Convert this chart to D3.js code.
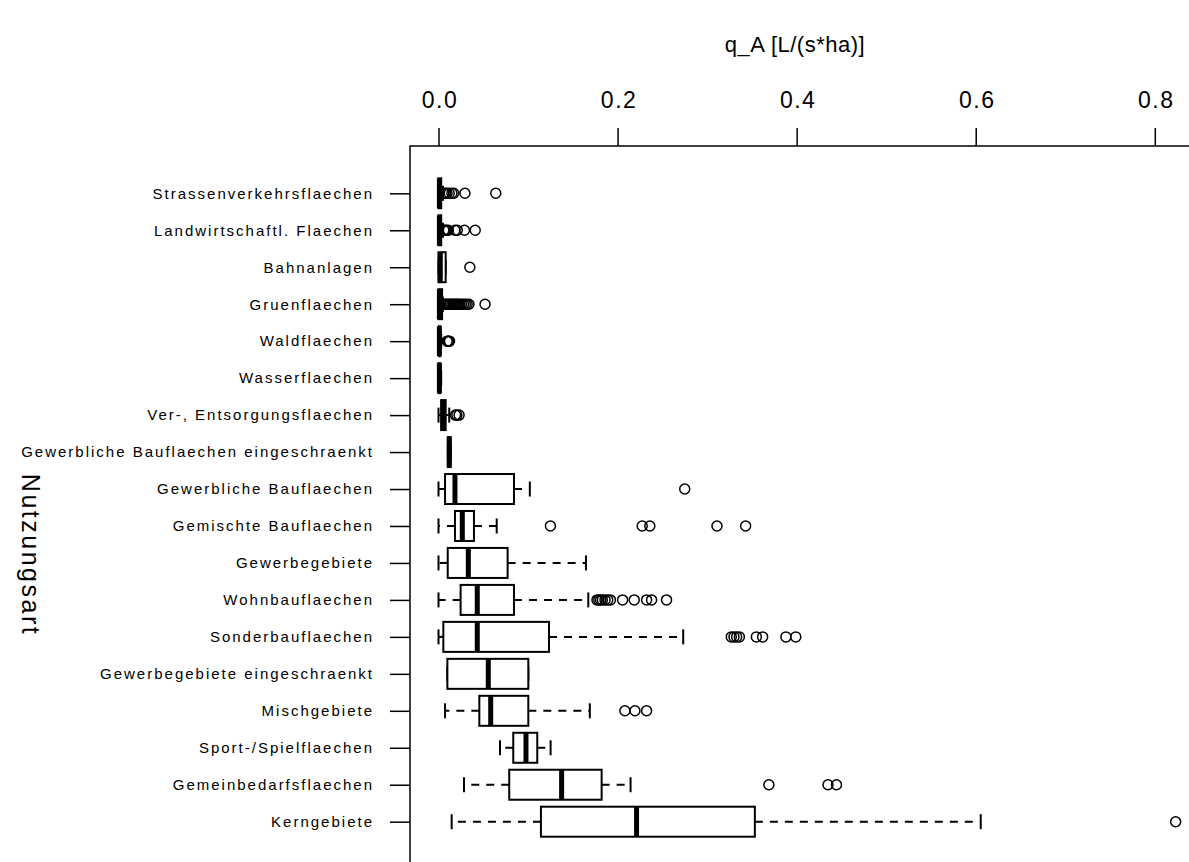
<!DOCTYPE html>
<html>
<head>
<meta charset="utf-8">
<script src="https://cdn.jsdelivr.net/npm/d3@7"></script>
<style>
  body { margin: 0; background: #fff; }
  svg text { font-family: "Liberation Sans", Arial, sans-serif; fill: #000; }
</style>
</head>
<body>
<svg id="chart" width="1189" height="862"></svg>
<script>
// categories, top to bottom
const categories = [
  'Strassenverkehrsflaechen', 'Landwirtschaftl. Flaechen', 'Bahnanlagen', 'Gruenflaechen',
  'Waldflaechen', 'Wasserflaechen', 'Ver-, Entsorgungsflaechen', 'Gewerbliche Bauflaechen eingeschraenkt',
  'Gewerbliche Bauflaechen', 'Gemischte Bauflaechen', 'Gewerbegebiete', 'Wohnbauflaechen',
  'Sonderbauflaechen', 'Gewerbegebiete eingeschraenkt', 'Mischgebiete', 'Sport-/Spielflaechen',
  'Gemeinbedarfsflaechen', 'Kerngebiete'
];

// box statistics
const whiskLo = [0, 0, 0, 0, 0, 0, 0, 0.0105, 0, 0, 0, 0, 0, 0.0099, 0.0073, 0.0687, 0.0285, 0.0147];
const q1      = [0, 0, 0, 0, 0.0005, 0, 0.003, 0.0105, 0.0073, 0.0184, 0.0103, 0.0247, 0.0054, 0.0099, 0.0456, 0.0835, 0.079, 0.1144];
const median  = [0.001, 0.001, 0.002, 0.001, 0.001, 0.001, 0.005, 0.012, 0.0184, 0.0266, 0.0333, 0.0433, 0.0433, 0.0556, 0.0583, 0.0977, 0.1375, 0.2212];
const q3      = [0.003, 0.003, 0.008, 0.004, 0.002, 0.002, 0.008, 0.0135, 0.0843, 0.0396, 0.0772, 0.0843, 0.1234, 0.1003, 0.1003, 0.1103, 0.1822, 0.3533];
const whiskHi = [0.005, 0.005, 0.008, 0.005, 0.003, 0.003, 0.012, 0.0135, 0.102, 0.065, 0.1647, 0.1673, 0.2733, 0.1003, 0.169, 0.1252, 0.2145, 0.6056];

const outliers = [
  [0.006, 0.008, 0.0095, 0.012, 0.015, 0.017, 0.0295, 0.064],
  [0.006, 0.0075, 0.009, 0.011, 0.0185, 0.021, 0.029, 0.041],
  [0.035],
  [0.006, 0.0075, 0.009, 0.0105, 0.012, 0.0135, 0.015, 0.0165, 0.018, 0.0195, 0.021, 0.0225, 0.024, 0.026, 0.028, 0.030, 0.032, 0.034, 0.052],
  [0.0097, 0.0105, 0.0113, 0.0123],
  [],
  [0.019, 0.0205, 0.023],
  [],
  [0.275],
  [0.125, 0.2275, 0.236, 0.311, 0.343],
  [],
  [0.177, 0.179, 0.181, 0.183, 0.186, 0.189, 0.192, 0.2056, 0.2186, 0.2324, 0.238, 0.2547],
  [0.327, 0.330, 0.333, 0.336, 0.355, 0.362, 0.388, 0.399],
  [],
  [0.2082, 0.2194, 0.2324],
  [],
  [0.369, 0.435, 0.4445],
  [0.8233]
];

const xTicks = [0, 0.2, 0.4, 0.6, 0.8];

const svg = d3.select('#chart');

const x = d3.scaleLinear().domain([0, 0.8]).range([438.5, 1154.8]);
const y = d3.scalePoint().domain(categories).range([193.3, 821.7]);

const boxH = 30, capH = 15;

// plot frame (runs past the picture on right and bottom)
svg.append('rect')
    .attr('x', 410).attr('y', 146)
    .attr('width', 800).attr('height', 720)
    .attr('fill', 'none').attr('stroke', '#000').attr('stroke-width', 1.5);

// top axis
const xAxis = svg.append('g')
    .attr('transform', 'translate(0,146)')
    .call(d3.axisTop(x).tickValues(xTicks).tickSize(18).tickPadding(20).tickFormat(d3.format('.1f')));
xAxis.select('.domain').remove();
xAxis.selectAll('line').attr('stroke', '#000').attr('stroke-width', 1.5);
xAxis.selectAll('text')
    .attr('font-size', 23).attr('letter-spacing', 1.5).attr('dx', 1)
    .style('font-family', '"Liberation Sans", Arial, sans-serif')
    .attr('fill', '#000');

// left axis
const yAxis = svg.append('g')
    .attr('transform', 'translate(410,0)')
    .call(d3.axisLeft(y).tickSize(20).tickPadding(16));
yAxis.select('.domain').remove();
yAxis.selectAll('line').attr('stroke', '#000').attr('stroke-width', 1.5);
yAxis.selectAll('text')
    .attr('font-size', 15).attr('letter-spacing', 2)
    .style('font-family', '"Liberation Sans", Arial, sans-serif')
    .attr('fill', '#000');

// titles
svg.append('text')
    .attr('x', 795).attr('y', 52)
    .attr('text-anchor', 'middle')
    .attr('font-size', 22).attr('letter-spacing', 0.5)
    .text('q_A [L/(s*ha)]');

svg.append('text')
    .attr('transform', 'translate(22,555) rotate(90)')
    .attr('text-anchor', 'middle')
    .attr('font-size', 25).attr('letter-spacing', 2.5)
    .text('Nutzungsart');

// boxes
const g = svg.append('g');
categories.forEach((c, i) => {
  const cy = y(c);
  // whiskers (dashed)
  g.append('line')
      .attr('x1', x(q1[i])).attr('x2', x(whiskLo[i]))
      .attr('y1', cy).attr('y2', cy)
      .attr('stroke', '#000').attr('stroke-width', 2).attr('stroke-dasharray', '8,7');
  g.append('line')
      .attr('x1', x(q3[i])).attr('x2', x(whiskHi[i]))
      .attr('y1', cy).attr('y2', cy)
      .attr('stroke', '#000').attr('stroke-width', 2).attr('stroke-dasharray', '8,7');
  // caps
  [whiskLo[i], whiskHi[i]].forEach(v => {
    g.append('line')
        .attr('x1', x(v)).attr('x2', x(v))
        .attr('y1', cy - capH / 2).attr('y2', cy + capH / 2)
        .attr('stroke', '#000').attr('stroke-width', 2);
  });
  // box
  g.append('rect')
      .attr('x', x(q1[i])).attr('y', cy - boxH / 2)
      .attr('width', Math.max(0, x(q3[i]) - x(q1[i]))).attr('height', boxH)
      .attr('fill', '#fff').attr('stroke', '#000').attr('stroke-width', 2);
  // median
  g.append('line')
      .attr('x1', x(median[i])).attr('x2', x(median[i]))
      .attr('y1', cy - boxH / 2).attr('y2', cy + boxH / 2)
      .attr('stroke', '#000').attr('stroke-width', 5);
  // outliers
  g.selectAll(null)
      .data(outliers[i])
      .enter().append('circle')
      .attr('cx', d => x(d)).attr('cy', cy)
      .attr('r', 5)
      .attr('fill', 'none').attr('stroke', '#000').attr('stroke-width', 1.5);
});
</script>
</body>
</html>
